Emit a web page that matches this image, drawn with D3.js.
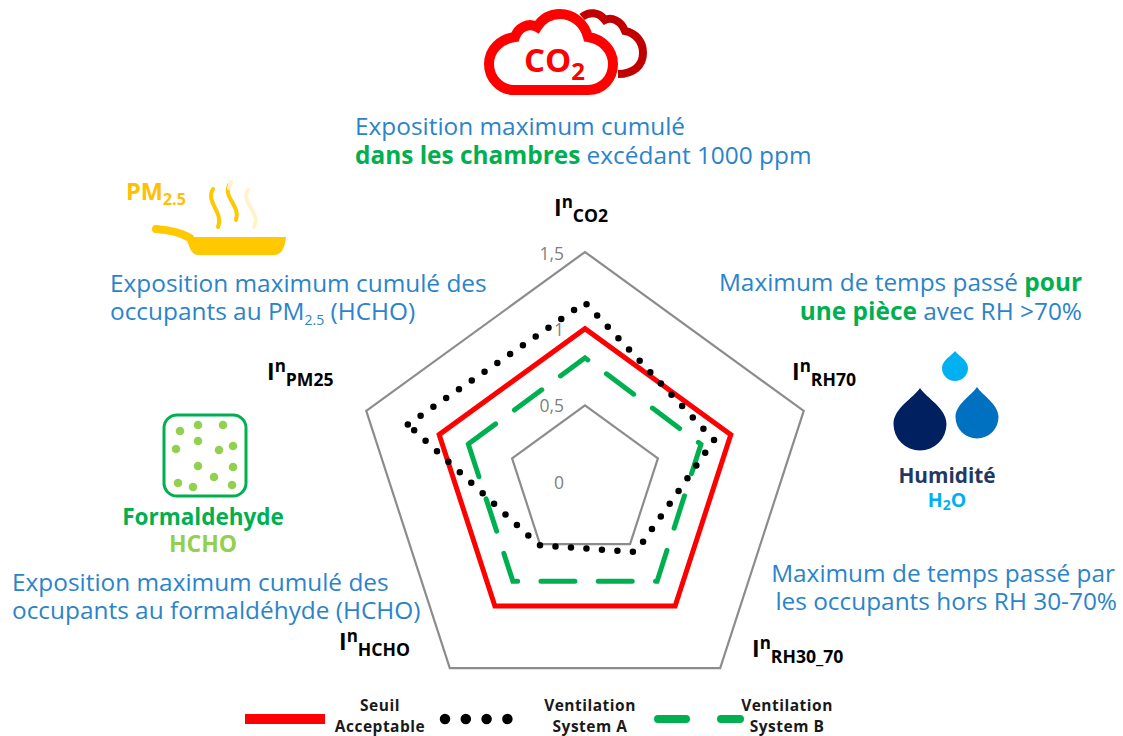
<!DOCTYPE html>
<html><head><meta charset="utf-8">
<script src="https://cdn.jsdelivr.net/npm/d3@7"></script>
<style>html,body{margin:0;padding:0;background:#fff}svg{display:block}text{font-family:"Open Sans",sans-serif}</style>
</head><body><div id="c"></div>
<script>
const categories = ["CO2","RH70","RH30_70","HCHO","PM25"];
const seuil = [1,1,1,1,1];
const systemA = [1.17,0.885,0.565,0.51,1.215];
const systemB = [0.81,0.795,0.8,0.8,0.8];
const gridValues = [0.5,1,1.5];
const tickValues = [0,0.5,1,1.5];
const tickLabels = ["0","0,5","1","1,5"];
const W=1123,H=736,cx=585,cy=482;
const svg=d3.select("#c").append("svg").attr("width",W).attr("height",H);
const r=d3.scaleLinear().domain([0,1.5]).range([0,230]);
const step=2*Math.PI/categories.length;
// Each outline starts at the PM25 vertex, as the dash phase of the reference shows
const startOrder=[4,0,1,2,3];
const radial=d3.lineRadial().angle(d=>d.i*step).radius(d=>r(d.v)).curve(d3.curveLinearClosed);
const outline=vals=>radial(startOrder.map(i=>({i,v:vals[i]})));
const g=svg.append("g").attr("transform",`translate(${cx},${cy})`);
const GRAY="#8c8c8c",RED="#ff0000",GREEN="#00b050",BLUE="#2b84c9";

g.selectAll(".ring").data(gridValues).join("path").attr("class","ring")
 .attr("d",v=>outline(categories.map(()=>v))).attr("fill","none").attr("stroke",GRAY).attr("stroke-width",2.2);
g.selectAll(".tick").data(tickValues).join("text").attr("class","tick")
 .attr("x",-21).attr("y",v=>-r(v)+(v===1.5?8:7)).attr("text-anchor","end")
 .attr("font-size",17.5).attr("fill","#7f7f7f").text((v,i)=>tickLabels[i]);

const sty={
 seuil:{stroke:RED,w:5,dash:null,cap:"butt"},
 a:{stroke:"#000",w:6.5,dash:"0 15.52",cap:"round"},
 b:{stroke:GREEN,w:5,dash:"34 23.3",cap:"round"}
};
[[seuil,sty.seuil],[systemB,sty.b],[systemA,sty.a]].forEach(([vals,s])=>{
 g.append("path").attr("d",outline(vals)).attr("fill","none").attr("stroke",s.stroke)
  .attr("stroke-width",s.w).attr("stroke-linecap",s.cap).attr("stroke-linejoin","miter")
  .attr("stroke-dasharray",s.dash);
});

function rich(x,y,anchor,size,fill,weight,runs){
 const t=svg.append("text").attr("x",x).attr("y",y).attr("text-anchor",anchor).attr("font-size",size).attr("fill",fill).attr("font-weight",weight);
 let shift=0;
 runs.forEach(ru=>{
  const o=typeof ru==="string"?{t:ru}:ru;
  const ts=t.append("tspan").text(o.t).style("white-space","pre");
  if(o.fill)ts.attr("fill",o.fill);
  if(o.weight)ts.attr("font-weight",o.weight);
  const target=o.sub?o.sub:o.sup?-o.sup:0;
  if(o.size)ts.attr("font-size",o.size);
  ts.attr("dy",target-shift);shift=target;
 });
 return t;
}
const FS=24.4;
rich(355,135,"start",FS,BLUE,400,["Exposition maximum cumulé"]);
rich(355,164,"start",FS,BLUE,400,[{t:"dans les chambres",fill:GREEN,weight:700}," excédant 1000 ppm"]);
rich(110,292,"start",FS,BLUE,400,["Exposition maximum cumulé des"]);
rich(110,320,"start",FS,BLUE,400,["occupants au PM",{t:"2.5",sub:5,size:14}," (HCHO)"]);
rich(1082,291,"end",FS,BLUE,400,["Maximum de temps passé ",{t:"pour",fill:GREEN,weight:700}]);
rich(1082,320,"end",FS,BLUE,400,[{t:"une pièce",fill:GREEN,weight:700}," avec RH >70%"]);
rich(1115,582,"end",FS,BLUE,400,["Maximum de temps passé par"]);
rich(1117,610,"end",FS,BLUE,400,["les occupants hors RH 30-70%"]);
rich(12,591,"start",FS,BLUE,400,["Exposition maximum cumulé des"]);
rich(12,619,"start",FS,BLUE,400,["occupants au formaldéhyde (HCHO)"]);

function axisLabel(x,y,name){
 rich(x,y,"start",23,"#000",700,["I",{t:"n",sup:8,size:17},{t:name,sub:6,size:17.6}]);
}
axisLabel(554,216,categories[0]);
axisLabel(792,380,categories[1]);
axisLabel(752,657,categories[2]);
axisLabel(339,650,categories[3]);
axisLabel(267,380,categories[4]);

// CO2 icon
svg.append("path").attr("d","M582 17 C589 11 599 12 605 20 C611 17 621 20 625 31 C636 33 643 42 643 53 C643 66 633 74 618 74")
 .attr("fill","none").attr("stroke","#c00000").attr("stroke-width",8);
svg.append("path").attr("d","M514 90 H588 C603 90 613 78 613 64 C613 50 602 39 588 37 C584 22 572 14 560 14 C550 14 542 19 537 27 C528 22 518 28 515 37 C500 39 489 50 489 64 C489 78 500 90 514 90 Z")
 .attr("fill","#fff").attr("stroke",RED).attr("stroke-width",10);
rich(524,72,"start",33,RED,700,["CO",{t:"2",sub:8,size:24}]);

// PM2.5 icon
rich(126,200,"start",23.5,"#ffc000",700,["PM",{t:"2.5",sub:5,size:16}]);
svg.append("path").attr("d","M156 229 C170 230 180 232 190 238").attr("fill","none").attr("stroke","#ffc800").attr("stroke-width",8).attr("stroke-linecap","round");
svg.append("path").attr("d","M186 237 H286 C285 247 282 255 274 255 H198 C191 255 189 246 186 237 Z").attr("fill","#ffc800");
const flames=[["M213 189 C205 202 224 212 218 227","#ffc800"],["M229 185 C223 198 241 206 236 220","#ffc800"],["M248 190 C240 202 262 214 254 227","#fff2cc"],["M231 182 L229 188","#fff2cc"]];
flames.forEach(f=>svg.append("path").attr("d",f[0]).attr("fill","none").attr("stroke",f[1]).attr("stroke-width",4).attr("stroke-linecap","round"));

// Formaldehyde icon
svg.append("rect").attr("x",164).attr("y",415).attr("width",82).attr("height",81).attr("rx",13).attr("fill","none").attr("stroke",GREEN).attr("stroke-width",3);
[[180,431],[198,425],[223,425],[176,449],[198,441],[219,450],[233,446],[198,466],[233,467],[178,483],[193,487],[214,477],[232,485]]
 .forEach(p=>svg.append("circle").attr("cx",p[0]).attr("cy",p[1]).attr("r",4.3).attr("fill","#92d050"));
rich(203,525,"middle",22.5,GREEN,700,["Formaldehyde"]);
rich(203,552,"middle",23,"#92d050",700,["HCHO"]);

// Humidity icon
function drop(tx,ty,c,k,col){
 const cyy=ty+c;
 svg.append("path").attr("d",`M${tx} ${ty} C${tx+k*0.25} ${ty+c*0.28} ${tx+k} ${cyy-k*0.6} ${tx+k} ${cyy} A${k} ${k} 0 1 1 ${tx-k} ${cyy} C${tx-k} ${cyy-k*0.6} ${tx-k*0.25} ${ty+c*0.28} ${tx} ${ty} Z`).attr("fill",col);
}
drop(955,351,17,13,"#00b0f0");
drop(977,387,30,21.5,"#0070c0");
drop(920,388,36,26.5,"#002060");
rich(947,483,"middle",20.8,"#1f3864",700,["Humidité"]);
rich(947,507,"middle",19.5,"#00b0f0",700,["H",{t:"2",sub:3,size:14},"O"]);

// Legend
const legendLine=d3.line();
const lg=svg.append("g");
lg.append("path").attr("d",legendLine([[245,719],[325,719]])).attr("stroke",RED).attr("stroke-width",10).attr("fill","none");
lg.append("path").attr("d",legendLine([[445,719],[512,719]])).attr("stroke","#000").attr("stroke-width",10.5).attr("stroke-linecap","round").attr("stroke-dasharray","0 20.8").attr("fill","none");
lg.append("path").attr("d",legendLine([[658,719],[740,719]])).attr("stroke",GREEN).attr("stroke-width",8).attr("stroke-linecap","round").attr("stroke-dasharray","28 35").attr("fill","none");
[["Seuil",380,711],["Acceptable",380,732],["Ventilation",590,711],["System A",590,732],["Ventilation",787,711],["System B",787,732]]
 .forEach(d=>rich(d[1],d[2],"middle",15.5,"#1a1a1a",700,[d[0]]).attr("letter-spacing",0.5));
</script></body></html>
